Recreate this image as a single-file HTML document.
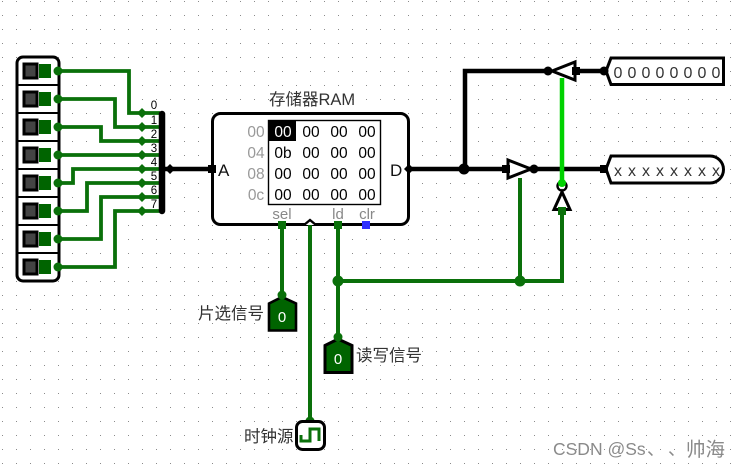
<!DOCTYPE html>
<html><head><meta charset="utf-8"><style>
html,body{margin:0;padding:0;background:#fff;width:741px;height:468px;overflow:hidden}
svg{display:block}
text{font-family:"Liberation Sans","Noto Sans CJK SC",sans-serif}
</style></head><body>
<svg width="741" height="468" viewBox="0 0 741 468" xmlns="http://www.w3.org/2000/svg">
<defs><pattern id="g" x="2" y="1" width="14" height="14" patternUnits="userSpaceOnUse"><rect width="1" height="1" fill="#8a8a8a"/></pattern></defs>
<rect width="741" height="468" fill="#fff"/>
<rect width="741" height="468" fill="url(#g)"/>

<!-- DIP -->
<rect x="17" y="57" width="42" height="224" rx="6" fill="#fff" stroke="#000" stroke-width="3"/>
<g stroke="#000" stroke-width="2"><path d="M17 85H59M17 113H59M17 141H59M17 169H59M17 197H59M17 225H59M17 253H59"/></g>
<g fill="#444" stroke="#000" stroke-width="3">
<rect x="24" y="64" width="13" height="14"/><rect x="24" y="92" width="13" height="14"/><rect x="24" y="120" width="13" height="14"/><rect x="24" y="148" width="13" height="14"/><rect x="24" y="176" width="13" height="14"/><rect x="24" y="204" width="13" height="14"/><rect x="24" y="232" width="13" height="14"/><rect x="24" y="260" width="13" height="14"/>
</g>
<g fill="#006400">
<rect x="39" y="64" width="12" height="14"/><rect x="39" y="92" width="12" height="14"/><rect x="39" y="120" width="12" height="14"/><rect x="39" y="148" width="12" height="14"/><rect x="39" y="176" width="12" height="14"/><rect x="39" y="204" width="12" height="14"/><rect x="39" y="232" width="12" height="14"/><rect x="39" y="260" width="12" height="14"/>
</g>

<!-- green wires -->
<g fill="none" stroke="#0a700a" stroke-width="3.8">
<path d="M58 71H129V113H160"/>
<path d="M58 99H115V127H160"/>
<path d="M58 127H101V141H160"/>
<path d="M58 155H160"/>
<path d="M58 183H73V169H160"/>
<path d="M58 211H87V183H160"/>
<path d="M58 239H101V197H160"/>
<path d="M58 267H115V211H160"/>
</g>
<g fill="#0a700a">
<circle cx="58" cy="71" r="4.5"/><circle cx="58" cy="99" r="4.5"/><circle cx="58" cy="127" r="4.5"/><circle cx="58" cy="155" r="4.5"/><circle cx="58" cy="183" r="4.5"/><circle cx="58" cy="211" r="4.5"/><circle cx="58" cy="239" r="4.5"/><circle cx="58" cy="267" r="4.5"/>
<path d="M142 108l5 5-5 5-5-5z M142 122l5 5-5 5-5-5z M142 136l5 5-5 5-5-5z M142 150l5 5-5 5-5-5z M142 164l5 5-5 5-5-5z M142 178l5 5-5 5-5-5z M142 192l5 5-5 5-5-5z M142 206l5 5-5 5-5-5z"/>
</g>
<!-- splitter -->
<path d="M162 114V211" stroke="#000" stroke-width="6.500" stroke-linecap="round"/>
<path d="M162 169H212" stroke="#000" stroke-width="4.500"/>
<path d="M170 164l5 5-5 5-5-5z" fill="#000"/>
<g font-size="11.500" fill="#000" text-anchor="middle">
<text x="154" y="109">0</text><text x="154" y="124">1</text><text x="154" y="138">2</text><text x="154" y="152">3</text><text x="154" y="166">4</text><text x="154" y="180">5</text><text x="154" y="194">6</text><text x="154" y="208">7</text>
</g>

<!-- RAM -->
<text x="269" y="105" font-size="16.500" fill="#333">存储器RAM</text>
<rect x="212.500" y="113.500" width="196" height="111" rx="8" fill="#fff" stroke="#000" stroke-width="3"/>
<rect x="268.500" y="120.500" width="112" height="84" fill="#fff" stroke="#000" stroke-width="1.400"/>
<rect x="268" y="120" width="28" height="21" fill="#000"/>
<g font-size="15.500" text-anchor="middle" fill="#999">
<text x="256" y="137">00</text><text x="256" y="158">04</text><text x="256" y="179">08</text><text x="256" y="200">0c</text>
</g>
<g font-size="15.500" text-anchor="middle" fill="#000">
<text x="283" y="137" fill="#fff">00</text><text x="311" y="137">00</text><text x="339" y="137">00</text><text x="367" y="137">00</text>
<text x="283" y="158">0b</text><text x="311" y="158">00</text><text x="339" y="158">00</text><text x="367" y="158">00</text>
<text x="283" y="179">00</text><text x="311" y="179">00</text><text x="339" y="179">00</text><text x="367" y="179">00</text>
<text x="283" y="200">00</text><text x="311" y="200">00</text><text x="339" y="200">00</text><text x="367" y="200">00</text>
</g>
<g font-size="15" text-anchor="middle" fill="#888">
<text x="282" y="219">sel</text><text x="338" y="219">ld</text><text x="367" y="219">clr</text>
</g>
<text x="218" y="176" font-size="17" fill="#111">A</text>
<text x="390" y="176" font-size="17" fill="#111">D</text>
<rect x="208" y="165" width="8" height="8" fill="#000"/>
<path d="M404 169l5-5 5 5-5 5z" fill="#000"/>
<rect x="362" y="221" width="8" height="8" fill="#3030ff"/>

<!-- control wires -->
<g fill="none" stroke="#0a700a" stroke-width="4">
<path d="M282 225V296"/>
<path d="M310 224V421"/>
<path d="M338 225V338"/>
<path d="M338 281H562V212"/>
<path d="M520 178V281"/>
</g>
<rect x="278" y="221" width="8" height="8" fill="#0a700a"/>
<rect x="334" y="221" width="8" height="8" fill="#0a700a"/>
<path d="M304 225l6-5 6 5" fill="#fff" stroke="#000" stroke-width="2.400"/>
<g fill="#0a700a"><circle cx="338" cy="281" r="5.500"/><circle cx="520" cy="281" r="5.500"/></g>

<!-- pins -->
<path d="M269 303.500L282 297L296 303.500V330.500H269Z" fill="#006400" stroke="#000" stroke-width="2.600"/>
<path d="M325 345.500L338 339L352 345.500V372.500H325Z" fill="#006400" stroke="#000" stroke-width="3"/>
<g fill="#0a700a"><circle cx="282" cy="295" r="4.500"/><circle cx="338" cy="337" r="4.500"/><circle cx="310" cy="421" r="4.500"/></g>
<text x="282" y="322" font-size="15" fill="#fff" text-anchor="middle">0</text>
<text x="338" y="364" font-size="15" fill="#fff" text-anchor="middle">0</text>
<text x="198" y="319" font-size="16.500" fill="#333">片选信号</text>
<text x="356" y="361" font-size="16.500" fill="#333">读写信号</text>
<text x="244" y="442" font-size="16.500" fill="#333">时钟源</text>
<rect x="296.500" y="421.500" width="28" height="28" rx="6" fill="#fff" stroke="#000" stroke-width="3"/>
<path d="M301 435V441H310V429H319V441" fill="none" stroke="#0a700a" stroke-width="3"/>

<!-- right side black wires -->
<g fill="none" stroke="#000" stroke-width="4.500">
<path d="M409 169H606"/>
<path d="M465 169V71H548"/>
<path d="M575 71H606"/>
</g>
<circle cx="464" cy="169" r="5.500" fill="#000"/>
<!-- top buffer -->
<path d="M552 71L575 62V80Z" fill="#fff" stroke="#000" stroke-width="3"/>
<circle cx="548" cy="71" r="4.500" fill="#000"/>
<rect x="572" y="67" width="8" height="8" fill="#000"/>
<!-- lower buffer -->
<path d="M508 160L531 169L508 178Z" fill="#fff" stroke="#000" stroke-width="3"/>
<rect x="502" y="165" width="8" height="8" fill="#000"/>
<circle cx="534" cy="169" r="4.500" fill="#000"/>
<!-- inverter -->
<circle cx="562" cy="186" r="4.500" fill="#fff" stroke="#000" stroke-width="2.400"/>
<path d="M562 192L554 209.500H570Z" fill="#fff" stroke="#000" stroke-width="3"/>
<rect x="558" y="207" width="8" height="8" fill="#0a700a"/>
<path d="M562 78V183" stroke="#00d200" stroke-width="4.500"/>
<circle cx="562" cy="183" r="4" fill="#00d200"/>

<!-- outputs -->
<path d="M606 71L611 58H723.500V84.500H611Z" fill="#fff" stroke="#000" stroke-width="3"/>
<circle cx="604" cy="71" r="4.500" fill="#000"/>
<path d="M606 169L611 156H710A13 13 0 0 1 710 183H611Z" fill="#fff" stroke="#000" stroke-width="3"/>
<rect x="600" y="165" width="8" height="8" fill="#000"/>
<g font-size="16" fill="#333" text-anchor="middle">
<text x="618" y="78">0</text><text x="632" y="78">0</text><text x="646" y="78">0</text><text x="660" y="78">0</text><text x="674" y="78">0</text><text x="688" y="78">0</text><text x="702" y="78">0</text><text x="716" y="78">0</text>
<text x="618" y="176">x</text><text x="632" y="176">x</text><text x="646" y="176">x</text><text x="660" y="176">x</text><text x="674" y="176">x</text><text x="688" y="176">x</text><text x="702" y="176">x</text><text x="716" y="176">x</text>
</g>
<g fill="#8a8a8a" font-size="17.500">
<text x="553" y="455">CSDN @Ss</text>
<text x="647" y="455">、</text>
<text x="668" y="455">、</text>
<text x="686" y="456" font-size="19.500">帅海</text>
</g>
</svg>
</body></html>
